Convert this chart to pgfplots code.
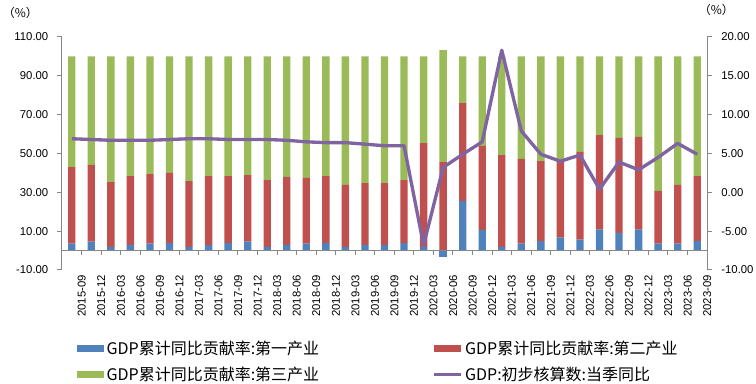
\documentclass[border=0pt]{standalone}
\usepackage{pgfplots}
\usepackage{pgfplotstable}
\pgfplotsset{compat=1.18}
\usepackage{fontspec}
\setmainfont{Liberation Sans}
\newfontfamily\cjk{Noto Sans CJK SC}
\definecolor{cblue}{HTML}{4F81BD}
\definecolor{cred}{HTML}{C0504D}
\definecolor{cgreen}{HTML}{9BBB59}
\definecolor{cpurple}{HTML}{8064A2}
\definecolor{axgray}{HTML}{878787}

\pgfplotstableread{
x blue red green
0 3.6 39.4 57.0
1 4.6 39.5 55.9
2 1.9 33.4 64.7
3 2.9 35.5 61.6
4 3.6 35.8 60.6
5 3.9 36.1 60.0
6 1.9 33.9 64.2
7 2.9 35.5 61.6
8 3.9 34.5 61.6
9 4.6 34.3 61.1
10 1.9 34.4 63.7
11 2.9 35.0 62.1
12 3.6 33.8 62.6
13 3.9 34.5 61.6
14 1.9 31.9 66.2
15 2.9 31.9 65.2
16 2.9 31.9 65.2
17 3.9 32.4 63.7
18 1.9 53.5 44.6
19 0.0 45.6 57.7
20 25.5 50.5 24.0
21 10.6 43.3 46.1
22 1.9 47.3 50.8
23 3.6 43.6 52.8
24 4.9 41.2 53.9
25 6.7 39.0 54.3
26 5.6 45.2 49.2
27 10.8 48.7 40.5
28 9.1 48.9 42.0
29 10.8 47.7 41.5
30 3.6 27.1 69.3
31 3.6 30.2 66.2
32 4.9 33.5 61.6
}\bars

\pgfplotstableread{
x blue
19 -3.1
}\negbar

\pgfplotstableread{
x gdp
0 6.9
1 6.8
2 6.7
3 6.7
4 6.7
5 6.8
6 6.9
7 6.9
8 6.8
9 6.8
10 6.8
11 6.7
12 6.5
13 6.4
14 6.4
15 6.2
16 6.0
17 6.0
18 -6.8
19 3.2
20 4.9
21 6.5
22 18.3
23 7.9
24 4.9
25 4.0
26 4.8
27 0.4
28 3.9
29 2.9
30 4.5
31 6.3
32 4.9
}\gdp

\pgfplotsset{
  base/.style={
    at={(46.5pt,85.5pt)}, anchor=south west,
    scale only axis, width=483.75pt, height=174.75pt,
    xmin=-0.5, xmax=32.5,
    ticklabel style={font=\fontsize{8.5}{10}\selectfont},
    /pgf/number format/assume math mode=true,
    yticklabel style={/pgf/number format/fixed, /pgf/number format/fixed zerofill, /pgf/number format/precision=2},
    tick align=outside,
    major tick length=3.75pt,
    every tick/.style={axgray, line width=0.75pt},
    axis line style={axgray, line width=0.75pt},
  },
  barleg/.style={legend image code/.code={\fill[##1] (0pt,-2.6pt) rectangle (20pt,2.6pt);}},
}

\begin{document}
\begin{tikzpicture}
\useasboundingbox (0,0) rectangle (567pt,288pt);
\begin{axis}[base,
  ymin=-10, ymax=110, ytick={-10,10,...,110},
  axis y line*=left, axis x line*=bottom,
  x axis line style={draw=none},
  xtick={0,...,32},
  xticklabels={2015-09,2015-12,2016-03,2016-06,2016-09,2016-12,2017-03,2017-06,2017-09,2017-12,2018-03,2018-06,2018-09,2018-12,2019-03,2019-06,2019-09,2019-12,2020-03,2020-06,2020-09,2020-12,2021-03,2021-06,2021-09,2021-12,2022-03,2022-06,2022-09,2022-12,2023-03,2023-06,2023-09},
  major x tick style={draw=none},
  xticklabel style={rotate=90, anchor=east, inner sep=0pt, yshift=-7.5pt},
  yticklabel style={xshift=-3pt},
  ybar stacked, bar width=5.5pt,
  legend columns=2,
  legend cell align=left,
  legend style={draw=none, fill=none, at={(0.0233,-0.29)}, anchor=north west,
    font=\cjk\fontsize{12}{14}\selectfont, inner sep=0pt,
    /tikz/every even column/.append style={column sep=83pt},
    row sep=4pt},
]
\addplot[fill=cblue, draw=none, barleg] table[x=x,y=blue]{\bars};
\addlegendentry{GDP累计同比贡献率:第一产业}
\addplot[fill=cred, draw=none, barleg] table[x=x,y=red]{\bars};
\addlegendentry{GDP累计同比贡献率:第二产业}
\addplot[fill=cgreen, draw=none, barleg] table[x=x,y=green]{\bars};
\addlegendentry{GDP累计同比贡献率:第三产业}
\addlegendimage{legend image code/.code={\draw[cpurple, line width=2.4pt] (0pt,0pt) -- (20pt,0pt);}}
\addlegendentry{GDP:初步核算数:当季同比}
\end{axis}

\begin{axis}[base, hide axis, ymin=-10, ymax=110, ybar, bar width=5.5pt]
\addplot[fill=cblue, draw=none] table[x=x,y=blue]{\negbar};
\draw[axgray, line width=0.75pt] (axis cs:-0.5,0) -- (axis cs:32.5,0);
\pgfplotsinvokeforeach{0.5,1.5,...,31.5}{
  \draw[axgray, line width=0.75pt] (axis cs:#1,0) -- ([yshift=-3pt]axis cs:#1,0);
}
\end{axis}

\begin{axis}[base,
  ymin=-10, ymax=20, ytick={-10,-5,...,20},
  axis y line*=right, axis x line=none,
  yticklabel style={xshift=3.5pt},
]
\addplot[cpurple, line width=2.5pt, line join=round] table[x=x,y=gdp]{\gdp};
\end{axis}

\node[font=\cjk\fontsize{9}{10}\selectfont, anchor=west, inner sep=0pt] at (2pt,278.5pt) {（\%）};
\node[font=\cjk\fontsize{9}{10}\selectfont, anchor=west, inner sep=0pt] at (524pt,280.5pt) {（\%）};
\end{tikzpicture}
\end{document}
